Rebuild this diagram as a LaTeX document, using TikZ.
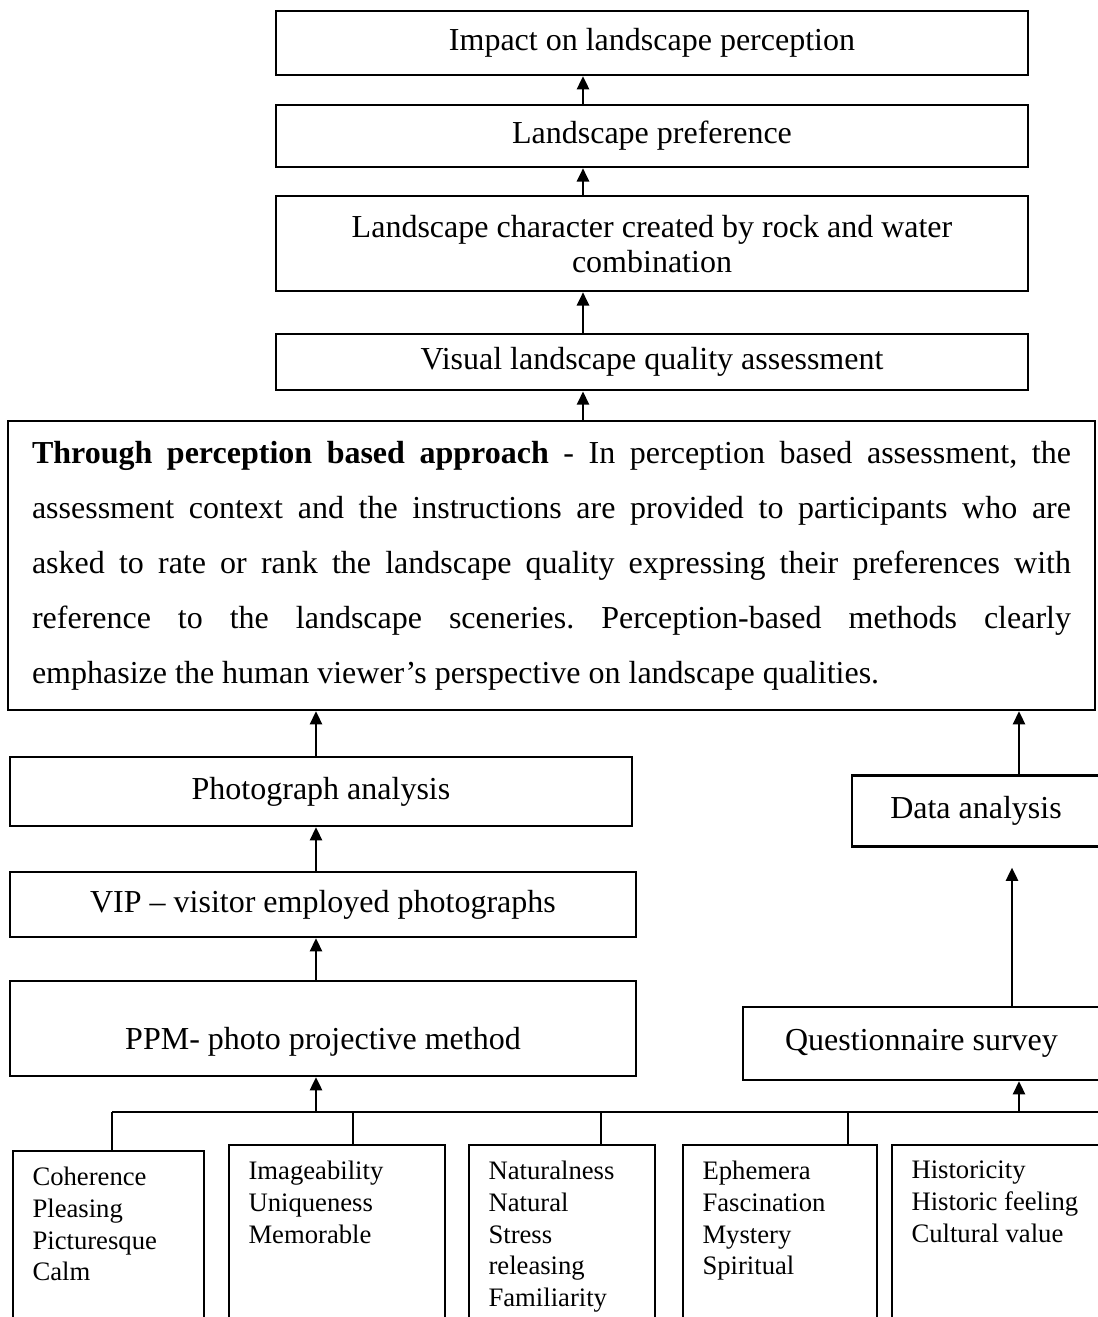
\documentclass[tikz,border=0pt]{standalone}
\usepackage{fontspec}
\setmainfont{Liberation Serif}
\usepackage{tikz}
\usetikzlibrary{arrows.meta,positioning}
\frenchspacing

\begin{document}
\begin{tikzpicture}[
  x=0.375pt, y=-0.375pt,
  node distance=10pt,
  box/.style={draw, line width=0.8pt, minimum width=282pt, align=center, inner sep=2pt, font=\fontsize{12}{13.2}\selectfont},
  frame/.style={draw, line width=0.8pt, anchor=north west, minimum height=72pt},
  item/.style={anchor=north west, align=left, inner xsep=7.5pt, inner ysep=6.2pt, font=\fontsize{10}{11.9}\selectfont},
  arr/.style={-{Triangle[length=5pt,width=4.5pt]}, line width=1pt},
  link/.style={line width=0.5pt},
]
  \useasboundingbox (0,0) rectangle (1097,1317);

  \node[box, minimum height=24pt] (impact) at (652,43) {Impact on landscape perception};
  \node[box, minimum height=23.25pt, below=10.5pt of impact] (pref) {Landscape preference};
  \node[box, minimum height=35.6pt, below=10.1pt of pref] (charac) {Landscape character created by rock and water\\combination};
  \node[box, minimum height=21pt, below=15.4pt of charac] (vlqa) {Visual landscape quality assessment};
  \node[box, minimum height=108.4pt, text width=389.6pt, inner xsep=9pt, align=justify, font=\fontsize{12}{20.6}\selectfont] (approach) at (551.5,565.5)
    {\tolerance=10000\noindent\textbf{Through perception based approach} - In perception based assessment, the\linebreak
     assessment context and the instructions are provided to participants who are\linebreak
     asked to rate or rank the landscape quality expressing their preferences with\linebreak
     reference to the landscape sceneries. Perception-based methods clearly\linebreak
     emphasize the human viewer’s perspective on landscape qualities.};

  \node[box, minimum width=233.25pt, minimum height=25.9pt] (photo) at (321,791.5) {Photograph analysis};
  \node[box, minimum width=234.75pt, minimum height=24.4pt] (vip) at (323,904.5) {VIP -- visitor employed photographs};
  \node[box, minimum width=234.75pt, minimum height=35.6pt, text height=19pt, text depth=3pt] (ppm) at (323,1028.5) {PPM- photo projective method};
  \node[box, minimum width=93pt, minimum height=26.6pt] (data) at (976,811) {Data analysis};
  \node[box, minimum width=133.9pt, minimum height=27.4pt] (quest) at (921.5,1043.5) {Questionnaire survey};

  \node[frame, minimum width=71.6pt] (f1) at (12,1150) {};
  \node[frame, minimum width=81pt] (f2) at (228,1144) {};
  \node[frame, minimum width=69.75pt] (f3) at (468,1144) {};
  \node[frame, minimum width=72.75pt] (f4) at (682,1144) {};
  \node[frame, minimum width=82pt] (f5) at (891,1144) {};

  \node[item] (t1) at (f1.north west) {Coherence\\Pleasing\\Picturesque\\Calm};
  \node[item] (t2) at (f2.north west) {Imageability\\Uniqueness\\Memorable};
  \node[item] (t3) at (f3.north west) {Naturalness\\Natural\\Stress\\releasing\\Familiarity};
  \node[item] (t4) at (f4.north west) {Ephemera\\Fascination\\Mystery\\Spiritual};
  \node[item] (t5) at (f5.north west) {Historicity\\Historic feeling\\Cultural value};

  \coordinate (spine) at (583,0);
  \coordinate (up1) at (316,1112);
  \coordinate (up2) at (1019,1112);
  \coordinate (qx) at (1012,0);
  \coordinate (busL) at (112,1112);
  \coordinate (busR) at (1110,1112);

  \draw[arr] (pref.north -| spine) -- (impact.south -| spine);
  \draw[arr] (charac.north -| spine) -- (pref.south -| spine);
  \draw[arr] (vlqa.north -| spine) -- (charac.south -| spine);
  \draw[arr] (approach.north -| spine) -- (vlqa.south -| spine);

  \draw[arr] (photo.north -| up1) -- (approach.south -| up1);
  \draw[arr] (vip.north -| up1) -- (photo.south -| up1);
  \draw[arr] (ppm.north -| up1) -- (vip.south -| up1);
  \draw[arr] (data.north -| up2) -- (approach.south -| up2);
  \draw[arr, shorten >=7.5pt] (quest.north -| qx) -- (data.south -| qx);

  \draw[link] (busL) -- (busR);
  \draw[arr] (up1) -- (up1 |- ppm.south);
  \draw[arr] (up2) -- (up2 |- quest.south);
  \foreach \x [count=\i] in {112,353,601,848} {
    \coordinate (j\i) at (\x,1112);
    \draw[link] (j\i) -- (j\i |- f\i.north);
  }
\end{tikzpicture}
\end{document}
